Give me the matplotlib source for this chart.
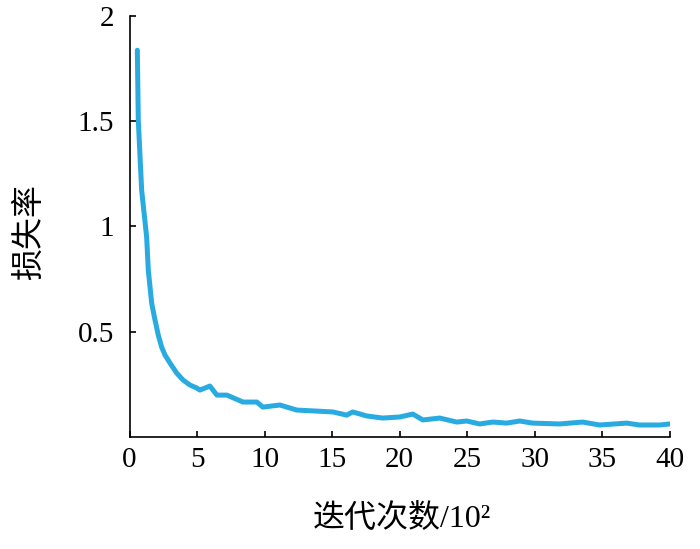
import matplotlib
matplotlib.use("Agg")
import matplotlib.pyplot as plt

# loss curve (iterations in units of 10^2)
iters = [0.58, 0.65, 0.90, 1.27, 1.39, 1.52, 1.64, 1.89, 2.13, 2.38,
         2.63, 3.00, 3.49, 3.96, 4.47, 4.97, 5.21, 5.95, 6.47, 7.21,
         8.40, 9.43, 9.87, 11.13, 12.38, 13.87, 15.05, 16.08, 16.52, 17.56,
         18.74, 20.00, 20.97, 21.71, 22.96, 24.22, 24.96, 25.92, 26.89, 27.92,
         28.88, 29.84, 31.84, 33.54, 34.80, 36.80, 37.76, 39.24, 39.98]
loss = [1.837, 1.505, 1.172, 0.949, 0.793, 0.712, 0.636, 0.555, 0.484, 0.427,
        0.389, 0.351, 0.304, 0.271, 0.247, 0.233, 0.223, 0.242, 0.199, 0.199,
        0.166, 0.166, 0.142, 0.152, 0.128, 0.123, 0.119, 0.104, 0.119, 0.100,
        0.090, 0.095, 0.109, 0.081, 0.090, 0.071, 0.076, 0.062, 0.071, 0.066,
        0.076, 0.066, 0.062, 0.071, 0.057, 0.066, 0.057, 0.057, 0.062]

x_ticks = [0, 5, 10, 15, 20, 25, 30, 35, 40]
y_ticks = [0.5, 1, 1.5, 2]
y_labels = ["0.5", "1", "1.5", "2"]

serif = "Liberation Serif"
cjk = ["Liberation Serif", "Noto Sans CJK SC"]

fig = plt.figure(figsize=(7.0, 5.49), dpi=100)
ax = fig.add_axes([0.185, 0.204, 0.772, 0.767])

ax.plot(iters, loss, color="#29abe2", linewidth=3.6,
        solid_capstyle="round", solid_joinstyle="round")

ax.set_xlim(0, 40)
ax.set_ylim(0, 2)
ax.set_xticks(x_ticks)
ax.set_yticks(y_ticks)
ax.set_yticklabels(y_labels)
for lbl in ax.get_xticklabels() + ax.get_yticklabels():
    lbl.set_fontfamily(serif)
    lbl.set_fontsize(21)

ax.spines["top"].set_visible(False)
ax.spines["right"].set_visible(False)
ax.spines["left"].set_linewidth(1.2)
ax.spines["bottom"].set_linewidth(1.2)
ax.tick_params(direction="in", length=4, width=1.2)
ax.tick_params(axis="y", pad=11)
ax.tick_params(axis="x", pad=7)

fig.text(402 / 700, 1 - 519 / 549, "迭代次数/10²", family=cjk, fontsize=23,
         ha="center", va="center")
fig.text(30 / 700, 1 - 232 / 549, "损失率", family=cjk, fontsize=23,
         rotation=90, ha="center", va="center")

fig.savefig("out.png", dpi=100)
